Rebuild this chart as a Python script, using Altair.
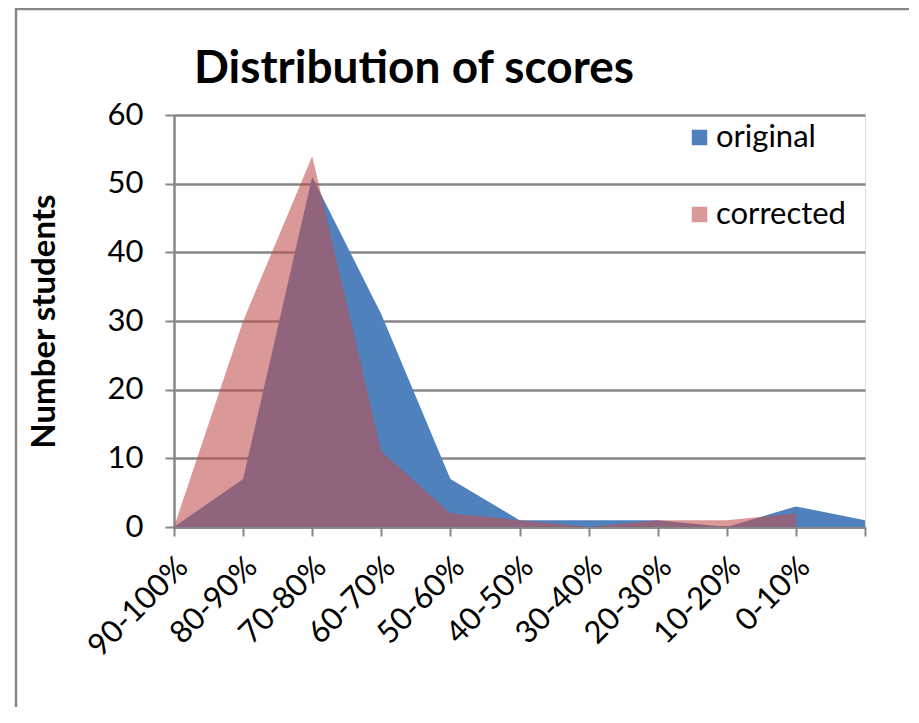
import json
import altair as alt
import pandas as pd

chart_title = "Distribution of scores"
categories = ["90-100%", "80-90%", "70-80%", "60-70%", "50-60%",
              "40-50%", "30-40%", "20-30%", "10-20%", "0-10%"]
original = [0, 7, 51, 31, 7, 1, 1, 1, 0, 3, 1]
corrected = [0, 30, 54, 11, 2, 1, 0, 1, 1, 2]
series_names = ["original", "corrected"]
y_ticks = [0, 10, 20, 30, 40, 50, 60]

df_orig = pd.DataFrame({"idx": list(range(len(original))), "count": original, "series": "original"})
df_corr = pd.DataFrame({"idx": list(range(len(corrected))), "count": corrected, "series": "corrected"})

FONT = "Lato"
GREY = "#868686"

label_expr = "datum.value < %d ? %s[datum.value] : ''" % (len(categories), json.dumps(categories))

x_enc = alt.X("idx:Q",
              scale=alt.Scale(domain=[0, 10], nice=False, zero=False),
              axis=alt.Axis(values=list(range(11)), labelExpr=label_expr, title=None,
                            labelAngle=-45, labelAlign="right", labelBaseline="middle",
                            labelFontSize=31, labelFont=FONT, labelColor="black",
                            labelPadding=26, labelOffset=9,
                            tickSize=9, tickWidth=2, tickColor=GREY,
                            domainColor=GREY, domainWidth=2.5, grid=False, labelOverlap=False))
y_enc = alt.Y("count:Q",
              scale=alt.Scale(domain=[0, 60], nice=False),
              axis=alt.Axis(values=y_ticks, title="Number students", titleFont=FONT,
                            titleFontSize=33, titleFontWeight="bold", titleColor="black",
                            titlePadding=46, labelFontSize=31, labelFont=FONT, labelColor="black",
                            labelPadding=22, tickSize=9, tickWidth=2, tickColor=GREY,
                            domainColor=GREY, domainWidth=2.5,
                            grid=True, gridColor=GREY, gridWidth=2.5))
color_enc = alt.Color("series:N",
                      scale=alt.Scale(domain=series_names, range=["#4F81BD", "#C0504D"]),
                      legend=alt.Legend(title=None, orient="none", legendX=510, legendY=7,
                                        symbolType="square", symbolSize=240, symbolStrokeWidth=0,
                                        labelFont=FONT, labelFontSize=31, labelColor="black",
                                        rowPadding=45, labelOffset=1))
opacity_enc = alt.Opacity("series:N",
                          scale=alt.Scale(domain=series_names, range=[1.0, 0.58]),
                          legend=None)

blue = alt.Chart(df_orig).mark_area(line=False, interpolate="linear").encode(
    x=x_enc, y=y_enc, color=color_enc, opacity=opacity_enc)
pink = alt.Chart(df_corr).mark_area(line=False, interpolate="linear").encode(
    x=x_enc, y=y_enc, color=color_enc, opacity=opacity_enc)

border = alt.Chart(pd.DataFrame({"a": [0]})).mark_rect(
    fill=None, stroke=GREY, strokeWidth=2.5, clip=False).encode(
    x=alt.value(-158), x2=alt.value(743), y=alt.value(-106), y2=alt.value(700))

title_text = alt.Chart(pd.DataFrame({"t": [chart_title]})).mark_text(
    align="left", baseline="alphabetic", font=FONT, fontSize=46, fontWeight="bold",
    color="black", clip=False).encode(
    text="t:N", x=alt.value(20), y=alt.value(-32))

chart = alt.layer(border, blue, pink, title_text).properties(
    width=691, height=412,
    padding={"left": 166, "top": 107, "right": 44, "bottom": 180},
    autosize=alt.AutoSizeParams(type="none"),
).configure_view(stroke=None).configure(background="white")

chart.save("out.html", embed_options={"renderer": "svg", "actions": False})
